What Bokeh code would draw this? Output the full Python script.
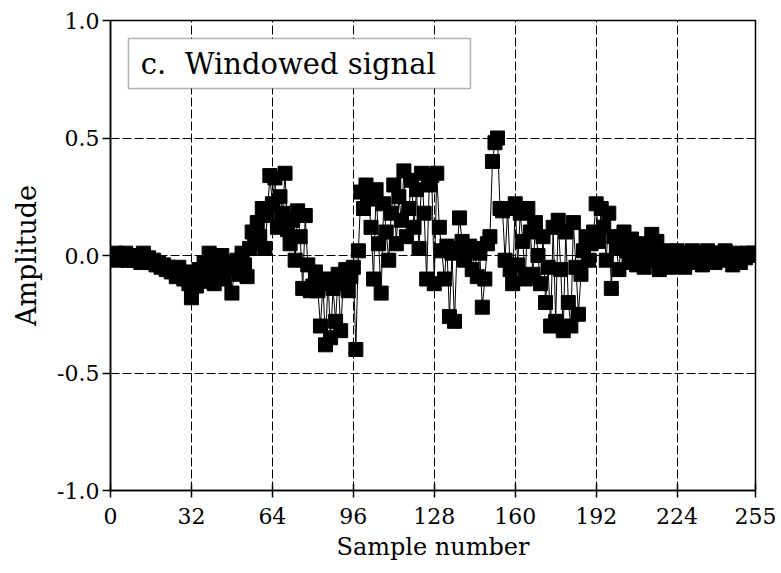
from bokeh.plotting import figure
from bokeh.models import FixedTicker, NumeralTickFormatter, BoxAnnotation, Label, Range1d
from bokeh.embed import file_html
from bokeh.resources import INLINE

# ---- data ----
sample_number = list(range(256))
amplitude = [
    0.00, -0.01, 0.01, -0.02, 0.00, -0.01, 0.01, -0.02, 0.00, -0.02, -0.01, 0.00, -0.03, 0.01, -0.02, -0.01,
    -0.03, -0.02, -0.04, -0.03, -0.05, -0.04, -0.06, -0.05, -0.07, -0.06, -0.09, -0.05, -0.08, -0.10, -0.07, -0.12,
    -0.18, -0.10, -0.13, -0.06, -0.11, -0.03, -0.09, 0.01, -0.08, -0.12, -0.04, -0.07, 0.00, -0.10, -0.05, -0.03,
    -0.16, -0.06, -0.02, -0.08, 0.01, -0.04, -0.09, 0.03, 0.10, 0.05, 0.14, 0.08, 0.20, 0.03, 0.17, 0.34,
    0.22, 0.33, 0.12, 0.25, 0.18, 0.35, 0.11, 0.05, 0.15, -0.02, 0.19, 0.08, -0.14, 0.17, -0.04, -0.15,
    -0.13, -0.07, -0.15, -0.30, -0.12, -0.38, -0.10, -0.35, -0.14, -0.28, -0.08, -0.32, -0.12, -0.06, -0.15, -0.09,
    -0.05, -0.40, 0.02, 0.27, 0.20, 0.30, 0.24, 0.12, -0.10, 0.28, 0.05, -0.16, 0.22, 0.10, -0.02, 0.18,
    0.30, 0.05, 0.25, 0.15, 0.36, 0.08, 0.20, 0.32, 0.12, 0.28, 0.03, 0.35, 0.18, -0.10, 0.30, 0.34,
    -0.12, 0.35, 0.12, 0.02, -0.10, 0.04, -0.26, 0.01, -0.28, 0.03, 0.16, 0.06, -0.02, 0.02, 0.04, -0.06,
    0.03, -0.09, 0.01, -0.22, -0.10, 0.05, 0.08, 0.40, 0.48, 0.50, 0.20, 0.19, -0.02, 0.20, -0.06, -0.12,
    0.22, -0.04, 0.18, 0.06, -0.10, 0.20, 0.10, -0.08, 0.14, 0.00, -0.12, 0.08, -0.20, -0.05, -0.30, 0.12,
    -0.28, 0.15, -0.06, -0.32, 0.10, -0.20, -0.30, 0.14, -0.05, -0.25, -0.08, 0.02, 0.08, -0.02, 0.05, 0.10,
    0.22, 0.06, 0.20, 0.12, -0.02, 0.18, -0.14, 0.08, 0.03, -0.06, 0.06, 0.10, 0.02, -0.03, 0.07, 0.01,
    -0.04, 0.05, 0.02, -0.05, 0.03, -0.02, 0.09, 0.01, 0.06, -0.06, 0.00, -0.03, 0.02, -0.05, 0.01, -0.02,
    0.02, -0.04, 0.00, -0.05, 0.01, -0.02, 0.02, -0.03, -0.01, 0.01, -0.04, 0.00, 0.02, -0.02, 0.01, -0.03,
    0.00, 0.01, -0.02, 0.02, -0.01, 0.00, -0.04, 0.01, -0.02, -0.03, 0.00, -0.01, 0.01, 0.00, 0.01, 0.00,
]
x_ticks = [0, 32, 64, 96, 128, 160, 192, 224, 255]
y_ticks = [-1.0, -0.5, 0.0, 0.5, 1.0]
x_title = "Sample number"
y_title = "Amplitude"
legend_text = "c.\u00a0 Windowed signal"

FONT = "DejaVu Serif"

p = figure(width=781, height=573, output_backend="svg", toolbar_location=None,
           x_range=Range1d(0, 255), y_range=Range1d(-1.0, 1.0),
           min_border_left=110, min_border_right=26, min_border_top=20, min_border_bottom=83)
p.background_fill_color = "white"
p.border_fill_color = "white"
p.outline_line_color = "black"
p.outline_line_width = 1.5

p.line(sample_number, amplitude, line_color="black", line_width=1)
p.scatter(sample_number, amplitude, marker="square", size=14,
          fill_color="black", line_color="black")

# axes
p.xaxis.ticker = FixedTicker(ticks=x_ticks)
p.yaxis.ticker = FixedTicker(ticks=y_ticks)
p.yaxis.formatter = NumeralTickFormatter(format="0.0")
for ax in (p.xaxis[0], p.yaxis[0]):
    ax.axis_line_color = "black"
    ax.axis_line_width = 1.5
    ax.major_tick_line_color = "black"
    ax.major_tick_line_width = 1.5
    ax.minor_tick_line_color = None
    ax.major_label_text_font = FONT
    ax.major_label_text_font_size = "22px"
    ax.major_label_text_color = "black"
    ax.axis_label_text_font = FONT
    ax.axis_label_text_font_style = "normal"
    ax.axis_label_text_color = "black"
p.xaxis.major_tick_in = 7
p.xaxis.major_tick_out = 7
p.yaxis.major_tick_in = 0
p.yaxis.major_tick_out = 8
p.xaxis.major_label_standoff = 10
p.yaxis.major_label_standoff = 3
p.xaxis.axis_label = x_title
p.yaxis.axis_label = y_title
p.xaxis.axis_label_text_font_size = "24px"
p.yaxis.axis_label_text_font_size = "27px"
p.xaxis.axis_label_standoff = 6
p.yaxis.axis_label_standoff = 12

# grid
for g in (p.xgrid[0], p.ygrid[0]):
    g.grid_line_color = "black"
    g.grid_line_width = 1
    g.grid_line_dash = "9 3"
p.xgrid.ticker = FixedTicker(ticks=x_ticks)
p.ygrid.ticker = FixedTicker(ticks=y_ticks)

# legend-like title box
box = BoxAnnotation(left=7.1, right=142.3, top=0.923, bottom=0.711,
                    fill_color="white", fill_alpha=1.0,
                    line_color="black", line_width=1.5)
p.add_layout(box)
p.add_layout(Label(x=12, y=0.817, text=legend_text, text_font=FONT,
                   text_font_size="29px", text_color="black",
                   text_baseline="middle", text_align="left"))

open("out.html", "w").write(file_html(p, INLINE))
